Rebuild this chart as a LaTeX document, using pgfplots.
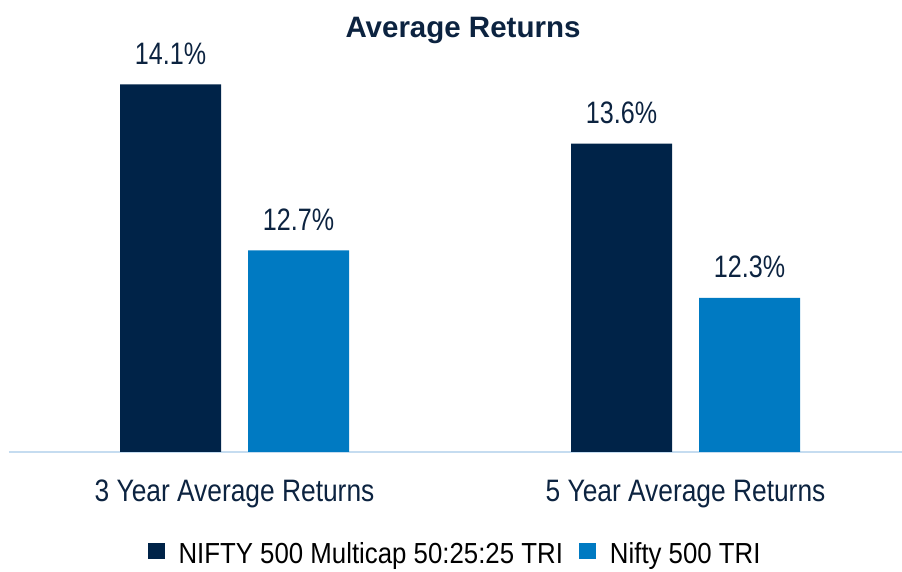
\documentclass[border=0pt]{standalone}
\usepackage{pgfplots}
\pgfplotsset{compat=1.18}
\usepackage{fontspec}
\setmainfont{Liberation Sans}
\newfontfamily\valfont[FakeStretch=0.81]{Liberation Sans}
\newfontfamily\catfont[FakeStretch=0.85]{Liberation Sans}
\newfontfamily\legfont[FakeStretch=0.89]{Liberation Sans}
\definecolor{navy}{RGB}{0,35,72}
\definecolor{midblue}{RGB}{0,122,194}
\definecolor{txtnavy}{RGB}{12,35,64}
\definecolor{axisblue}{RGB}{197,220,240}
\begin{document}
\begin{tikzpicture}
\useasboundingbox (0,0) rectangle (902pt,572pt);
\begin{axis}[
 at={(9pt,120pt)}, anchor=south west,
 scale only axis, width=902pt, height=415pt,
 xmin=-0.5, xmax=1.5, ymin=11, ymax=14.5,
 ybar, bar width=101pt,
 axis x line=bottom, axis y line=none,
 axis line style={draw=axisblue, line width=2pt, -},
 xtick={0,1}, xticklabels={3 Year Average Returns, 5 Year Average Returns},
 major tick length=0pt,
 xticklabel style={anchor=base, yshift=-50pt, font=\catfont\fontsize{31}{35}\selectfont, text=txtnavy},
 nodes near coords={\pgfplotspointmeta\%}, point meta=explicit symbolic,
 nodes near coords style={anchor=base, yshift=20pt, inner sep=0pt, font=\valfont\fontsize{31}{35}\selectfont, text=txtnavy},
 legend columns=2, legend cell align=left,
 legend style={draw=none, fill=none, at={(0.4945,-0.2458)}, anchor=center, font=\legfont\fontsize{29}{33}\selectfont, /tikz/every even column/.append style={column sep=14pt}},
 legend image code/.code={\fill[#1] (0pt,-5pt) rectangle (17pt,11pt); \path (29pt,0pt);},
 clip=false,
]
\addplot[fill=navy, draw=none, bar shift=-64pt] coordinates {(0,14.1) [14.1] (1,13.6) [13.6]};
\addplot[fill=midblue, draw=none, bar shift=64pt] coordinates {(0,12.7) [12.7] (1,12.3) [12.3]};
\legend{NIFTY 500 Multicap 50:25:25 TRI, Nifty 500 TRI}
\end{axis}
\node[anchor=base, font=\bfseries\fontsize{29.5}{33}\selectfont, text=txtnavy] at (463pt,534pt) {Average Returns};
\end{tikzpicture}
\end{document}
